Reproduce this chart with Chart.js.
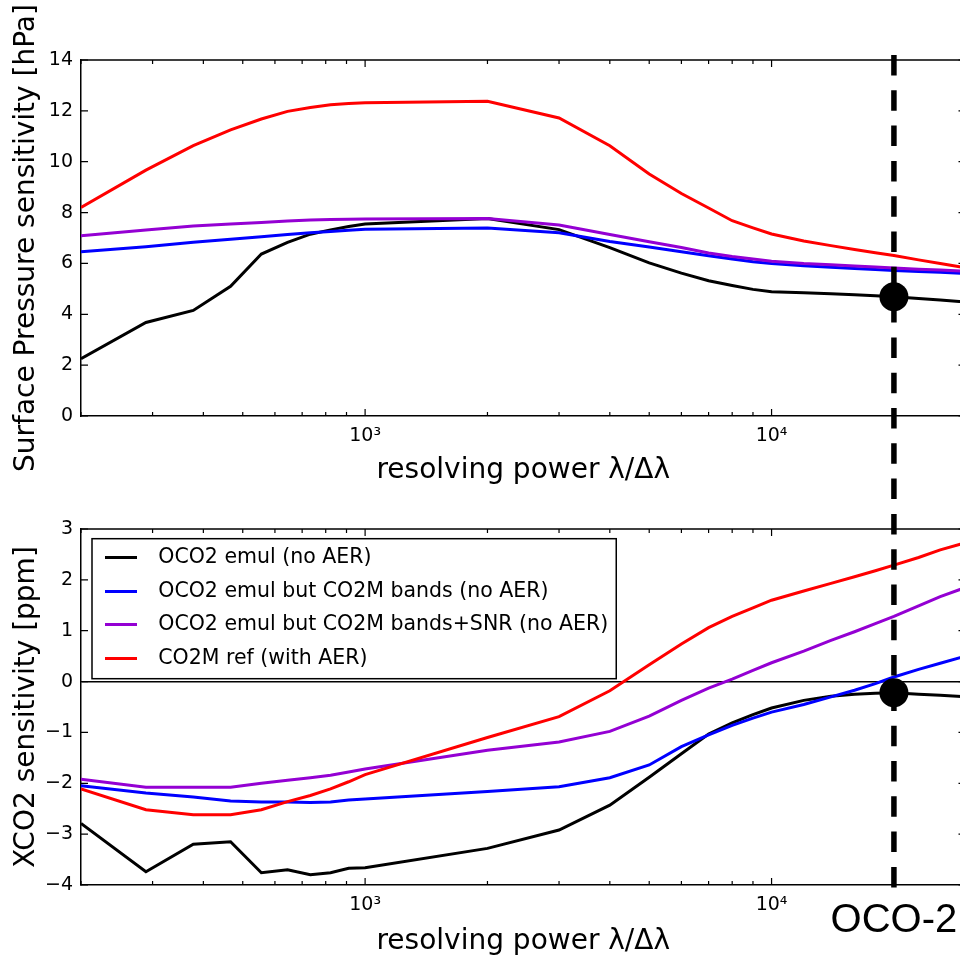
<!DOCTYPE html>
<html>
<head>
<meta charset="utf-8">
<script src="https://cdn.jsdelivr.net/npm/chart.js@4/dist/chart.umd.min.js"></script>
<style>
html, body { margin: 0; padding: 0; background: #fff; overflow: hidden; width: 960px; height: 962px; }
canvas { position: absolute; left: 0; }
#cTop { top: 0; }
#cBot { top: 500px; }
</style>
</head>
<body>
<canvas id="cTop" width="1000" height="500"></canvas>
<canvas id="cBot" width="1000" height="462"></canvas>
<script>
// ---------------- DATA ----------------
const RESOLVING_POWER = [200, 288.9, 377.8, 466.7, 555.6, 644.4, 733.3, 822.2, 911.1, 1000,
  2000, 3000, 4000, 5000, 6000, 7000, 8000, 9000, 10000,
  12000, 14000, 16000, 18000, 20000, 23000, 26000, 30000];

const SERIES_NAMES = [
  'OCO2 emul (no AER)',
  'OCO2 emul but CO2M bands (no AER)',
  'OCO2 emul but CO2M bands+SNR (no AER)',
  'CO2M ref (with AER)'
];
const SERIES_COLORS = ['#000000', '#0000ff', '#9400d3', '#ff0000'];

// Surface pressure sensitivity [hPa]
const SP_OCO2_EMUL = [2.25, 3.68, 4.15, 5.10, 6.37, 6.83, 7.15, 7.32, 7.45, 7.55,
  7.77, 7.33, 6.62, 6.02, 5.62, 5.32, 5.13, 4.98, 4.89,
  4.85, 4.81, 4.77, 4.73, 4.69, 4.62, 4.56, 4.48];
const SP_CO2M_BANDS = [6.46, 6.66, 6.83, 6.95, 7.05, 7.14, 7.21, 7.26, 7.30, 7.34,
  7.39, 7.21, 6.86, 6.65, 6.46, 6.30, 6.17, 6.07, 6.00,
  5.91, 5.85, 5.80, 5.76, 5.72, 5.68, 5.65, 5.60];
const SP_CO2M_BANDS_SNR = [7.09, 7.31, 7.47, 7.55, 7.61, 7.67, 7.71, 7.73, 7.74, 7.75,
  7.77, 7.51, 7.14, 6.85, 6.63, 6.41, 6.27, 6.17, 6.09,
  6.00, 5.95, 5.90, 5.86, 5.82, 5.77, 5.74, 5.69];
const SP_CO2M_REF = [8.20, 9.67, 10.63, 11.25, 11.68, 11.98, 12.13, 12.24, 12.29, 12.32,
  12.38, 11.72, 10.63, 9.52, 8.75, 8.18, 7.68, 7.40, 7.16,
  6.88, 6.70, 6.55, 6.42, 6.31, 6.14, 6.00, 5.83];

// XCO2 sensitivity [ppm]
const XC_OCO2_EMUL = [-2.79, -3.74, -3.20, -3.15, -3.76, -3.70, -3.80, -3.76, -3.67, -3.66,
  -3.28, -2.92, -2.43, -1.88, -1.42, -1.03, -0.81, -0.65, -0.52,
  -0.37, -0.29, -0.25, -0.23, -0.22, -0.25, -0.27, -0.30];
const XC_CO2M_BANDS = [-2.05, -2.19, -2.27, -2.35, -2.37, -2.37, -2.38, -2.37, -2.33, -2.31,
  -2.16, -2.07, -1.89, -1.64, -1.28, -1.05, -0.86, -0.72, -0.60,
  -0.45, -0.30, -0.17, -0.04, 0.09, 0.24, 0.36, 0.50];
const XC_CO2M_BANDS_SNR = [-1.92, -2.08, -2.08, -2.08, -2.00, -1.94, -1.89, -1.84, -1.78, -1.72,
  -1.35, -1.19, -0.98, -0.68, -0.37, -0.13, 0.05, 0.22, 0.37,
  0.60, 0.81, 0.98, 1.14, 1.28, 1.49, 1.67, 1.85];
const XC_CO2M_REF = [-2.11, -2.52, -2.62, -2.62, -2.52, -2.36, -2.24, -2.11, -1.97, -1.83,
  -1.10, -0.69, -0.18, 0.33, 0.74, 1.06, 1.28, 1.45, 1.60,
  1.78, 1.93, 2.06, 2.18, 2.29, 2.44, 2.59, 2.73];

// OCO-2 reference point
const OCO2_LABEL = 'OCO-2';
const OCO2_RP = 20000;
const OCO2_SP = 4.69;
const OCO2_XC = -0.22;

// Axes
const X_MIN = 200, X_MAX = 30000;
const X_TICKS = [200, 300, 400, 500, 600, 700, 800, 900, 1000,
  2000, 3000, 4000, 5000, 6000, 7000, 8000, 9000, 10000, 20000, 30000];
const X_TICK_LABELS = { 1000: '10\u00B3', 10000: '10\u2074' };
const X_TITLE = 'resolving power \u03BB/\u0394\u03BB';
const SP_TITLE = 'Surface Pressure sensitivity [hPa]';
const XC_TITLE = 'XCO2 sensitivity [ppm]';
const SP_MIN = 0, SP_MAX = 14, SP_STEP = 2;
const XC_MIN = -4, XC_MAX = 3, XC_STEP = 1;

// ---------------- STYLE / HELPERS ----------------
Chart.defaults.font.family = "'DejaVu Sans', sans-serif";
Chart.defaults.color = '#000';

const PAGE_BOTTOM_CANVAS_TOP = 500;
const DASH = [20.5, 14.8];
const DASH_START_PAGE_Y = 55;

function pts(ys) { return RESOLVING_POWER.map((x, i) => ({ x: x, y: ys[i] })); }
function fmtMinus(v) { return v < 0 ? '\u2212' + Math.abs(v) : String(v); }

function seriesDatasets(arrays) {
  return arrays.map((ys, i) => ({
    label: SERIES_NAMES[i],
    data: pts(ys),
    showLine: true,
    borderColor: SERIES_COLORS[i],
    backgroundColor: SERIES_COLORS[i],
    borderWidth: 3,
    pointRadius: 0,
    pointHoverRadius: 0,
    tension: 0,
    order: 4 - i
  }));
}

function xScaleCfg(axisHeight, titleBottomPad) {
  return {
    type: 'logarithmic',
    min: X_MIN, max: X_MAX,
    afterBuildTicks: s => { s.ticks = X_TICKS.map(v => ({ value: v, major: X_TICK_LABELS[v] !== undefined })); },
    afterFit: s => { s.height = axisHeight; },
    ticks: {
      autoSkip: false, maxRotation: 0, minRotation: 0, padding: 9,
      font: { size: 19 }, color: '#000',
      callback: v => X_TICK_LABELS[v] || ''
    },
    grid: { display: true, drawOnChartArea: false, drawTicks: false },
    border: { display: true, color: '#000', width: 1.5 },
    title: { display: true, text: X_TITLE, color: '#000', font: { size: 28 }, padding: { top: 0, bottom: titleBottomPad } }
  };
}

function yScaleCfg(min, max, step, title, zeroLine) {
  return {
    type: 'linear', min: min, max: max,
    afterFit: s => { s.width = 81; },
    ticks: { stepSize: step, padding: 8, font: { size: 19 }, color: '#000', callback: v => fmtMinus(v) },
    grid: zeroLine ? {
      display: true, drawOnChartArea: true, drawTicks: false, lineWidth: 1.4,
      color: c => (c.tick && c.tick.value === 0) ? '#000' : 'rgba(0,0,0,0)'
    } : { display: true, drawOnChartArea: false, drawTicks: false },
    border: { display: true, color: '#000', width: 1.5 },
    title: { display: true, text: title, color: '#000', font: { size: 28 }, padding: { top: 10, bottom: 0 } }
  };
}

// inward matplotlib-like ticks on four sides + top/right spines
const mplAxesPlugin = {
  id: 'mplAxes',
  afterDatasetsDraw(chart) {
    const { ctx, chartArea: a, scales } = chart;
    const x = scales.x, y = scales.y;
    ctx.save();
    ctx.strokeStyle = '#000';
    ctx.lineWidth = 1.5;
    ctx.beginPath();
    ctx.moveTo(a.left, a.top); ctx.lineTo(a.right, a.top); ctx.lineTo(a.right, a.bottom);
    ctx.stroke();
    ctx.lineWidth = 1.2;
    ctx.beginPath();
    x.ticks.forEach(t => {
      const px = x.getPixelForValue(t.value);
      const len = t.major ? 7 : 4;
      ctx.moveTo(px, a.bottom); ctx.lineTo(px, a.bottom - len);
      ctx.moveTo(px, a.top); ctx.lineTo(px, a.top + len);
    });
    y.ticks.forEach(t => {
      const py = y.getPixelForValue(t.value);
      ctx.moveTo(a.left, py); ctx.lineTo(a.left + 7, py);
      ctx.moveTo(a.right, py); ctx.lineTo(a.right - 7, py);
    });
    ctx.stroke();
    ctx.restore();
  }
};

// OCO-2 dashed reference line (and label)
const oco2Plugin = {
  id: 'oco2',
  afterDatasetsDraw(chart, args, opts) {
    const { ctx, chartArea: a, scales } = chart;
    const px = scales.x.getPixelForValue(OCO2_RP);
    ctx.save();
    ctx.strokeStyle = '#000';
    ctx.lineWidth = 5.5;
    ctx.setLineDash(DASH);
    ctx.lineDashOffset = opts.dashOffset || 0;
    ctx.beginPath();
    if (opts.isTop) { ctx.moveTo(px, DASH_START_PAGE_Y); ctx.lineTo(px, chart.height); }
    else { ctx.moveTo(px, 0); ctx.lineTo(px, a.bottom + 3); }
    ctx.stroke();
    if (opts.label) {
      ctx.setLineDash([]);
      ctx.fillStyle = '#000';
      ctx.font = '40px "Liberation Sans", Arial, sans-serif';
      ctx.textAlign = 'center';
      ctx.textBaseline = 'alphabetic';
      ctx.fillText(opts.label, px, a.bottom + 47);
    }
    ctx.restore();
  }
};

// legend placement + frame (matplotlib style box in upper left)
const legendFramePlugin = {
  id: 'legendFrame',
  afterLayout(chart) {
    const lg = chart.legend; const a = chart.chartArea;
    if (!lg) return;
    const w = lg.width, h = lg.height;
    lg.left = a.left; lg.right = a.left + w;
    lg.top = a.top + 5.7; lg.bottom = lg.top + h;
  },
  afterDraw(chart) {
    const lg = chart.legend;
    if (!lg || !lg.legendHitBoxes || !lg.legendHitBoxes.length) return;
    const hb = lg.legendHitBoxes;
    const left = Math.min(...hb.map(b => b.left)) - 2;
    const right = Math.max(...hb.map(b => b.left + b.width)) + 8;
    const top = hb[0].top - 9;
    const last = hb[hb.length - 1];
    const bottom = last.top + last.height + 10;
    const ctx = chart.ctx;
    ctx.save();
    ctx.strokeStyle = '#000';
    ctx.lineWidth = 1.5;
    ctx.strokeRect(left, top, right - left, bottom - top);
    ctx.restore();
  }
};

function swatch(color) {
  const c = document.createElement('canvas');
  c.width = 32; c.height = 3;
  const g = c.getContext('2d');
  g.fillStyle = color; g.fillRect(0, 0, 32, 3);
  return c;
}

// ---------------- TOP CHART ----------------
const topDatasets = seriesDatasets([SP_OCO2_EMUL, SP_CO2M_BANDS, SP_CO2M_BANDS_SNR, SP_CO2M_REF]);
topDatasets.push({
  label: OCO2_LABEL, data: [{ x: OCO2_RP, y: OCO2_SP }], showLine: false,
  pointRadius: 14.5, pointHoverRadius: 14.5, backgroundColor: '#000', borderWidth: 0, order: 0
});

new Chart(document.getElementById('cTop'), {
  type: 'scatter',
  data: { datasets: topDatasets },
  options: {
    responsive: false, animation: false, devicePixelRatio: 1,
    layout: { padding: { top: 60, right: 34.5, bottom: 0, left: 0 } },
    scales: {
      x: xScaleCfg(84, 12),
      y: yScaleCfg(SP_MIN, SP_MAX, SP_STEP, SP_TITLE, false)
    },
    plugins: {
      legend: { display: false },
      tooltip: { enabled: false },
      oco2: { isTop: true, dashOffset: 0 }
    }
  },
  plugins: [mplAxesPlugin, oco2Plugin]
});

// ---------------- BOTTOM CHART ----------------
const botDatasets = seriesDatasets([XC_OCO2_EMUL, XC_CO2M_BANDS, XC_CO2M_BANDS_SNR, XC_CO2M_REF]);
botDatasets.push({
  label: OCO2_LABEL, data: [{ x: OCO2_RP, y: OCO2_XC }], showLine: false,
  pointRadius: 14.5, pointHoverRadius: 14.5, backgroundColor: '#000', borderWidth: 0, order: 0
});

new Chart(document.getElementById('cBot'), {
  type: 'scatter',
  data: { datasets: botDatasets },
  options: {
    responsive: false, animation: false, devicePixelRatio: 1,
    layout: { padding: { top: 29, right: 34.5, bottom: 0, left: 0 } },
    scales: {
      x: xScaleCfg(77, 3),
      y: yScaleCfg(XC_MIN, XC_MAX, XC_STEP, XC_TITLE, true)
    },
    plugins: {
      tooltip: { enabled: false },
      legend: {
        display: true,
        position: 'chartArea',
        align: 'start',
        labels: {
          font: { size: 20.5 }, color: '#000', padding: 13,
          usePointStyle: true, pointStyleWidth: 54,
          generateLabels: chart => chart.data.datasets.slice(0, 4).map((ds, i) => ({
            text: ds.label,
            pointStyle: swatch(ds.borderColor),
            fillStyle: ds.borderColor,
            strokeStyle: ds.borderColor,
            lineWidth: 0,
            hidden: false,
            datasetIndex: i,
            fontColor: '#000'
          }))
        }
      },
      oco2: {
        isTop: false,
        dashOffset: (PAGE_BOTTOM_CANVAS_TOP - DASH_START_PAGE_Y) % (DASH[0] + DASH[1]),
        label: OCO2_LABEL
      }
    }
  },
  plugins: [mplAxesPlugin, oco2Plugin, legendFramePlugin]
});
</script>
</body>
</html>
